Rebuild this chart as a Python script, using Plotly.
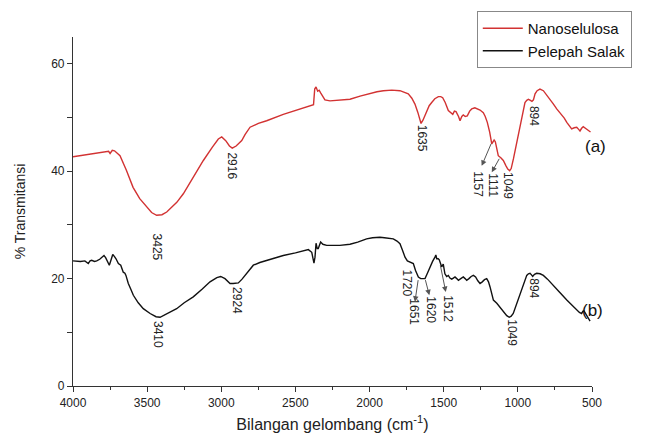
import plotly.graph_objects as go

# ---------------- data ----------------
wn_a = [4000, 3900, 3800, 3760, 3750, 3735, 3720, 3700, 3683, 3640, 3595, 3550, 3503, 3470, 3436,
        3400, 3368, 3300, 3256, 3190, 3121, 3060, 3020, 2997, 2970, 2945, 2926, 2900, 2880, 2862,
        2840, 2806, 2750, 2694, 2582, 2480, 2390, 2378, 2370, 2361, 2350, 2340, 2330, 2315, 2301,
        2267, 2200, 2132, 2064, 2000, 1950, 1907, 1850, 1795, 1760, 1739, 1715, 1694, 1675, 1653,
        1640, 1615, 1598, 1581, 1560, 1536, 1520, 1507, 1490, 1469, 1455, 1439, 1428, 1417, 1400,
        1390, 1378, 1368, 1355, 1341, 1325, 1311, 1290, 1277, 1255, 1233, 1220, 1206, 1190, 1176,
        1168, 1160, 1152, 1140, 1132, 1115, 1098, 1080, 1068, 1055, 1045, 1030, 1019, 1000, 985,
        974, 960, 952, 940, 929, 915, 905, 895, 884, 870, 851, 828, 805, 783, 760, 738, 720, 704,
        687, 670, 650, 637, 620, 603, 590, 581, 570, 559, 540, 525, 510]
t_a = [42.7, 43.1, 43.5, 43.7, 43.3, 43.9, 43.8, 43.3, 42.9, 40.2, 37.0, 34.9, 33.3, 32.3, 31.8,
       31.9, 32.4, 34.2, 35.8, 38.8, 42.0, 44.5, 46.0, 46.4, 45.7, 44.7, 44.3, 44.7, 45.3, 45.7,
       46.8, 48.2, 48.9, 49.4, 50.6, 51.5, 52.2, 52.4, 55.3, 55.7, 54.9, 55.1, 54.6, 53.8, 53.3,
       53.1, 53.2, 53.4, 54.0, 54.5, 54.8, 55.0, 55.1, 55.0, 54.7, 54.4, 53.6, 52.5, 51.0, 48.9,
       49.5, 51.3, 52.2, 52.8, 53.5, 53.9, 53.9, 53.7, 52.8, 51.3, 50.9, 50.6, 51.2, 51.1, 50.2,
       49.4, 50.2, 50.5, 50.2, 50.3, 51.2, 51.6, 51.8, 51.7, 51.4, 50.9, 50.2, 49.1, 47.3, 45.1,
       45.6, 45.8, 45.5, 44.2, 42.9, 42.5, 42.0, 41.0, 40.4, 40.1, 40.5, 42.3, 43.8, 46.0, 48.2,
       49.4, 51.5, 52.8, 53.2, 53.4, 53.2, 53.0, 53.3, 54.4, 55.0, 55.3, 55.0, 54.2, 53.4, 52.5,
       51.6, 51.0, 50.6, 49.9, 49.1, 48.3, 47.9, 48.1, 48.2, 47.8, 47.5, 48.0, 48.3, 47.9, 47.6, 47.3]

wn_b = [4000, 3950, 3920, 3908, 3897, 3885, 3874, 3855, 3840, 3820, 3806, 3791, 3780, 3773, 3755,
        3742, 3732, 3720, 3710, 3694, 3678, 3661, 3650, 3643, 3627, 3610, 3593, 3560, 3526, 3480,
        3440, 3413, 3380, 3340, 3301, 3250, 3189, 3130, 3076, 3030, 3004, 2975, 2950, 2941, 2920,
        2900, 2885, 2860, 2840, 2810, 2784, 2740, 2694, 2640, 2582, 2500, 2413, 2390, 2375, 2368,
        2361, 2353, 2346, 2338, 2330, 2315, 2289, 2200, 2132, 2080, 2020, 1980, 1952, 1930, 1900,
        1870, 1840, 1815, 1795, 1778, 1761, 1745, 1727, 1715, 1705, 1690, 1671, 1655, 1640, 1626,
        1610, 1592, 1575, 1559, 1553, 1547, 1537, 1530, 1520, 1514, 1503, 1492, 1480, 1469, 1458,
        1446, 1435, 1424, 1412, 1401, 1385, 1368, 1356, 1345, 1330, 1315, 1300, 1285, 1270, 1255,
        1240, 1225, 1210, 1198, 1188, 1176, 1165, 1142, 1120, 1098, 1075, 1058, 1045, 1031, 1010,
        985, 962, 940, 929, 918, 908, 900, 888, 873, 850, 828, 800, 761, 720, 670, 635, 603, 585,
        570, 562, 554, 540, 525, 513]
t_b = [23.3, 23.2, 23.3, 23.0, 22.8, 23.3, 23.4, 23.2, 23.3, 23.6, 23.9, 24.3, 23.9, 23.4, 22.5,
       23.6, 24.5, 24.1, 23.7, 22.8, 22.5, 21.2, 21.0, 20.6, 19.1, 18.0, 16.9, 15.5, 14.4, 13.5,
       12.9, 12.8, 13.3, 13.9, 14.4, 15.5, 16.6, 18.0, 19.4, 20.2, 20.4, 20.0, 19.3, 19.1, 19.1,
       19.2, 19.2, 19.9, 20.6, 21.7, 22.5, 23.0, 23.4, 23.8, 24.3, 24.8, 25.4, 24.9, 22.9, 24.0,
       26.6, 25.6, 25.6, 26.2, 26.8, 26.4, 26.2, 26.2, 26.4, 26.8, 27.4, 27.6, 27.7, 27.7, 27.6,
       27.5, 27.4, 27.0, 26.5, 25.3, 24.0, 23.3, 23.1, 23.0, 22.8, 21.5, 20.3, 20.0, 20.0, 20.0,
       21.0, 22.2, 23.2, 24.0, 24.4, 23.7, 23.7, 23.5, 22.6, 22.2, 22.7, 20.9, 20.4, 20.6, 20.1,
       19.9, 20.1, 20.3, 20.0, 19.7, 20.0, 20.3, 20.0, 19.7, 20.0, 20.4, 20.6, 20.3, 19.6, 19.1,
       19.4, 19.8, 20.0, 19.4, 18.5, 17.2, 16.0, 15.4, 14.6, 13.8, 13.1, 12.8, 13.0, 13.5, 15.2,
       17.2, 19.0, 20.6, 20.9, 21.0, 20.7, 20.4, 20.8, 21.0, 20.9, 20.6, 19.9, 18.8, 17.5, 16.0,
       15.0, 14.1, 13.7, 13.5, 13.9, 14.0, 13.3, 12.6, 12.1]

series_names = ["Nanoselulosa", "Pelepah Salak"]
series_colors = ["#d23232", "#111111"]

# peak labels: (text, label wavenumber, label %T)
labels_a = [("3425", 3434, 25.8), ("2916", 2928, 40.9), ("1635", 1648, 46.1),
            ("1157", 1269, 37.6), ("1111", 1168, 37.4), ("1049", 1066, 37.4), ("894", 891, 50.3)]
labels_b = [("3410", 3427, 9.5), ("2924", 2894, 16.0), ("1720", 1748, 19.1),
            ("1651", 1700, 13.9), ("1620", 1586, 14.1), ("1512", 1471, 14.5),
            ("1049", 1039, 10.0), ("894", 891, 18.2)]
# arrows: (tail wn, tail %T, head wn, head %T)
arrows = [(1176, 45.4, 1244, 41.0), (1120, 42.6, 1176, 39.8),
          (1671, 20.0, 1694, 15.7), (1626, 20.0, 1597, 16.9), (1525, 22.8, 1486, 17.5)]

FONT = "Liberation Sans, Arial, sans-serif"

fig = go.Figure()
for name, wn, t, c in [(series_names[0], wn_a, t_a, series_colors[0]),
                       (series_names[1], wn_b, t_b, series_colors[1])]:
    fig.add_trace(go.Scatter(x=wn, y=t, mode="lines", name=name,
                             line=dict(color=c, width=1.4)))

ann = []
for txt, x, y in labels_a + labels_b:
    ann.append(dict(x=x, y=y, xref="x", yref="y", text=txt, showarrow=False, textangle=90,
                    font=dict(family=FONT, size=12, color="#222")))
for tx, ty, hx, hy in arrows:
    ann.append(dict(x=hx, y=hy, ax=tx, ay=ty, xref="x", yref="y", axref="x", ayref="y",
                    text="", showarrow=True, arrowhead=2, arrowsize=1.1, arrowwidth=1,
                    arrowcolor="#555", standoff=0, startstandoff=0))
ann.append(dict(x=1.031, y=0.719, xref="paper", yref="paper", text="(a)", showarrow=False,
                font=dict(family=FONT, size=17, color="#111")))
ann.append(dict(x=1.025, y=0.183, xref="paper", yref="paper", text="(b)", showarrow=False,
                font=dict(family=FONT, size=17, color="#111")))

fig.update_layout(
    width=650, height=438,
    margin=dict(l=73, r=58, t=37, b=52, autoexpand=False),
    paper_bgcolor="white", plot_bgcolor="white",
    font=dict(family=FONT, color="#222"),
    annotations=ann,
    legend=dict(x=0.778, y=1.0745, xanchor="left", yanchor="top",
                bordercolor="#888", borderwidth=1, bgcolor="white",
                font=dict(family=FONT, size=15, color="#111"),
                tracegroupgap=0, itemwidth=40),
    xaxis=dict(range=[4000, 500], tickvals=[4000, 3500, 3000, 2500, 2000, 1500, 1000, 500],
               automargin=False,
               showgrid=False, zeroline=False, showline=True, linecolor="#333", linewidth=1.2,
               ticks="outside", ticklen=5, tickcolor="#333",
               minor=dict(dtick=250, ticks="outside", ticklen=3, tickcolor="#333"),
               tickfont=dict(family=FONT, size=12, color="#222"),
               title=dict(text="Bilangan gelombang (cm<sup>-1</sup>)", standoff=10,
                          font=dict(family=FONT, size=16, color="#222"))),
    yaxis=dict(range=[0, 65], tickvals=[0, 20, 40, 60],
               automargin=False,
               showgrid=False, zeroline=False, showline=True, linecolor="#333", linewidth=1.2,
               ticks="outside", ticklen=5, tickcolor="#333",
               minor=dict(tickvals=[10, 30, 50], ticks="outside", ticklen=5, tickcolor="#333"),
               tickfont=dict(family=FONT, size=12, color="#222"),
               title=dict(text="% Transmitansi", standoff=22,
                          font=dict(family=FONT, size=14, color="#222"))),
)

fig.write_html("out.html")
